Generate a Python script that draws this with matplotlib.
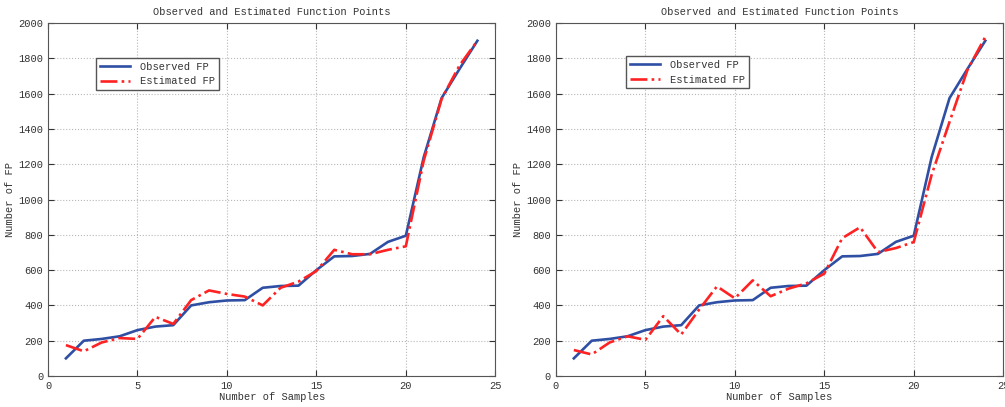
import matplotlib
matplotlib.use("Agg")
import matplotlib.pyplot as plt

# ---------------- DATA ----------------
samples = list(range(1, 25))
observed_fp = [100, 200, 210, 225, 260, 280, 288, 400, 418, 428, 430, 500,
               510, 512, 600, 678, 680, 692, 760, 795, 1240, 1575, 1740, 1900]
estimated_fp_left = [175, 140, 190, 215, 210, 335, 295, 430, 485, 465, 450, 400,
                     500, 535, 595, 715, 690, 690, 715, 735, 1220, 1570, 1760, 1900]
estimated_fp_right = [147, 122, 190, 225, 205, 339, 235, 376, 508, 440, 542, 452,
                      495, 525, 580, 781, 843, 702, 725, 759, 1140, 1440, 1734, 1922]

x_ticks = [0, 5, 10, 15, 20, 25]
y_ticks = list(range(0, 2001, 200))

plt.rcParams['font.family'] = ['Liberation Mono', 'DejaVu Sans Mono']
plt.rcParams['font.size'] = 7.5

fig = plt.figure(figsize=(10.05, 4.07), dpi=100)
ax1 = fig.add_axes([0.0478, 0.0762, 0.445, 0.867])
ax2 = fig.add_axes([0.5532, 0.0762, 0.445, 0.867])

for ax, est, leg_pos in [(ax1, estimated_fp_left, (0.107, 0.901)),
                         (ax2, estimated_fp_right, (0.157, 0.906))]:
    ax.plot(samples, observed_fp, color='#2e4fa3', lw=1.9, label='Observed FP')
    ax.plot(samples, est, color='#ff2222', lw=1.9, ls='-.', label='Estimated FP')
    ax.set_xlim(0, 25)
    ax.set_ylim(0, 2000)
    ax.set_xticks(x_ticks)
    ax.set_yticks(y_ticks)
    ax.grid(True, ls=':', color='#b8b8b8', lw=0.8)
    ax.tick_params(direction='in', top=True, right=True, length=4, colors='#333333')
    for s in ax.spines.values():
        s.set_color('#555555')
    ax.set_title('Observed and Estimated Function Points', fontsize=7.5, color='#333333')
    ax.set_xlabel('Number of Samples', color='#333333', labelpad=1)
    ax.set_ylabel('Number of FP', color='#333333', labelpad=2)
    leg = ax.legend(loc='upper left', bbox_to_anchor=leg_pos, fancybox=False,
                    framealpha=1, edgecolor='#555555', handlelength=2.9,
                    handletextpad=1.0, borderaxespad=0, borderpad=0.35,
                    labelspacing=0.45)
    for t in leg.get_texts():
        t.set_color('#333333')

fig.savefig('out.png', dpi=100)
